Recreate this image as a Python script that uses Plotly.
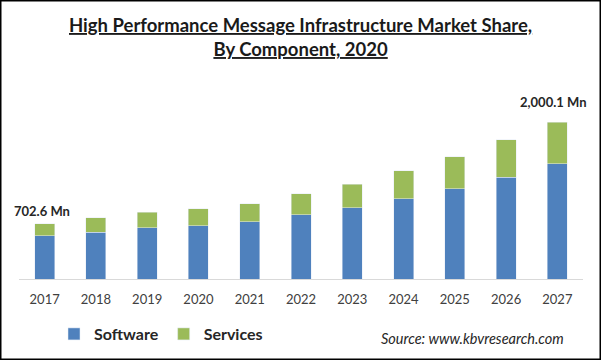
import plotly.graph_objects as go

years = ["2017", "2018", "2019", "2020", "2021", "2022", "2023", "2024", "2025", "2026", "2027"]
software = [552, 599, 654, 680, 727, 816, 909, 1024, 1151, 1300, 1470]
services = [150.6, 183, 200, 216, 233, 268, 302, 357, 405, 476, 530.1]
label_years = ["2017", "2027"]
label_texts = ["702.6 Mn", "2,000.1 Mn"]
label_vals = [867, 2262]

BLUE = "#4F81BD"
GREEN = "#9BBB59"
FONT = "Lato"

L, R, T, B = 19, 18, 100, 81
W, H = 601, 360
pw, ph = W - L - R, H - T - B

def px2x(px):
    return (px - L) / pw

def py2y(py):
    return (H - B - py) / ph

fig = go.Figure()
fig.add_trace(go.Bar(x=years, y=software, name="<b>Software</b>", marker_color=BLUE))
fig.add_trace(go.Bar(x=years, y=services, name="<b>Services</b>", marker_color=GREEN))

for yr, txt, v, dx in zip(label_years, label_texts, label_vals, [-3, -4]):
    fig.add_annotation(x=years.index(yr), y=v, xref="x", yref="y", text="<b>" + txt + "</b>",
                       xshift=dx, showarrow=False,
                       font=dict(family=FONT, size=13, color="#262626"))

fig.add_annotation(x=px2x(300), y=py2y(12), xref="paper", yref="paper", yanchor="top",
                   xanchor="center", showarrow=False,
                   text="<b><u>High Performance Message Infrastructure Market Share,</u></b><br><b><u>By Component, 2020</u></b>",
                   font=dict(family=FONT, size=18.5, color="#1a1a1a"), align="center")

fig.add_annotation(x=px2x(566), y=py2y(338), xref="paper", yref="paper", showarrow=False,
                   xanchor="right", yanchor="middle",
                   text="<i>Source: www.kbvresearch.com</i>",
                   font=dict(family=FONT, size=14.5, color="#262626"))

fig.add_shape(type="rect", xref="paper", yref="paper",
              x0=px2x(0.75), x1=px2x(600.25), y0=py2y(359.25), y1=py2y(0.75),
              line=dict(color="#000000", width=1.5), fillcolor="rgba(0,0,0,0)")

fig.update_layout(
    width=W, height=H,
    margin=dict(l=L, r=R, t=T, b=B, autoexpand=False),
    barmode="stack", bargap=0.61,
    paper_bgcolor="white", plot_bgcolor="white",
    font=dict(family=FONT, color="#404040"),
    showlegend=True,
    legend=dict(orientation="h", xref="container", yref="container",
                x=54 / W, y=(H - 334) / H, xanchor="left", yanchor="middle",
                font=dict(family=FONT, size=16, color="#262626"), traceorder="normal"),
    xaxis=dict(type="category", range=[-0.5, len(years) - 0.5], automargin=False,
               showline=True, linecolor="#D9D9D9", linewidth=1, showgrid=False,
               ticks="outside", ticklen=8, tickcolor="rgba(0,0,0,0)",
               tickfont=dict(family=FONT, size=13, color="#404040")),
    yaxis=dict(range=[0, 2282], visible=False, showgrid=False, automargin=False),
)

fig.write_html("out.html", config={"displayModeBar": False},
               post_script="document.body.style.margin='0';")
